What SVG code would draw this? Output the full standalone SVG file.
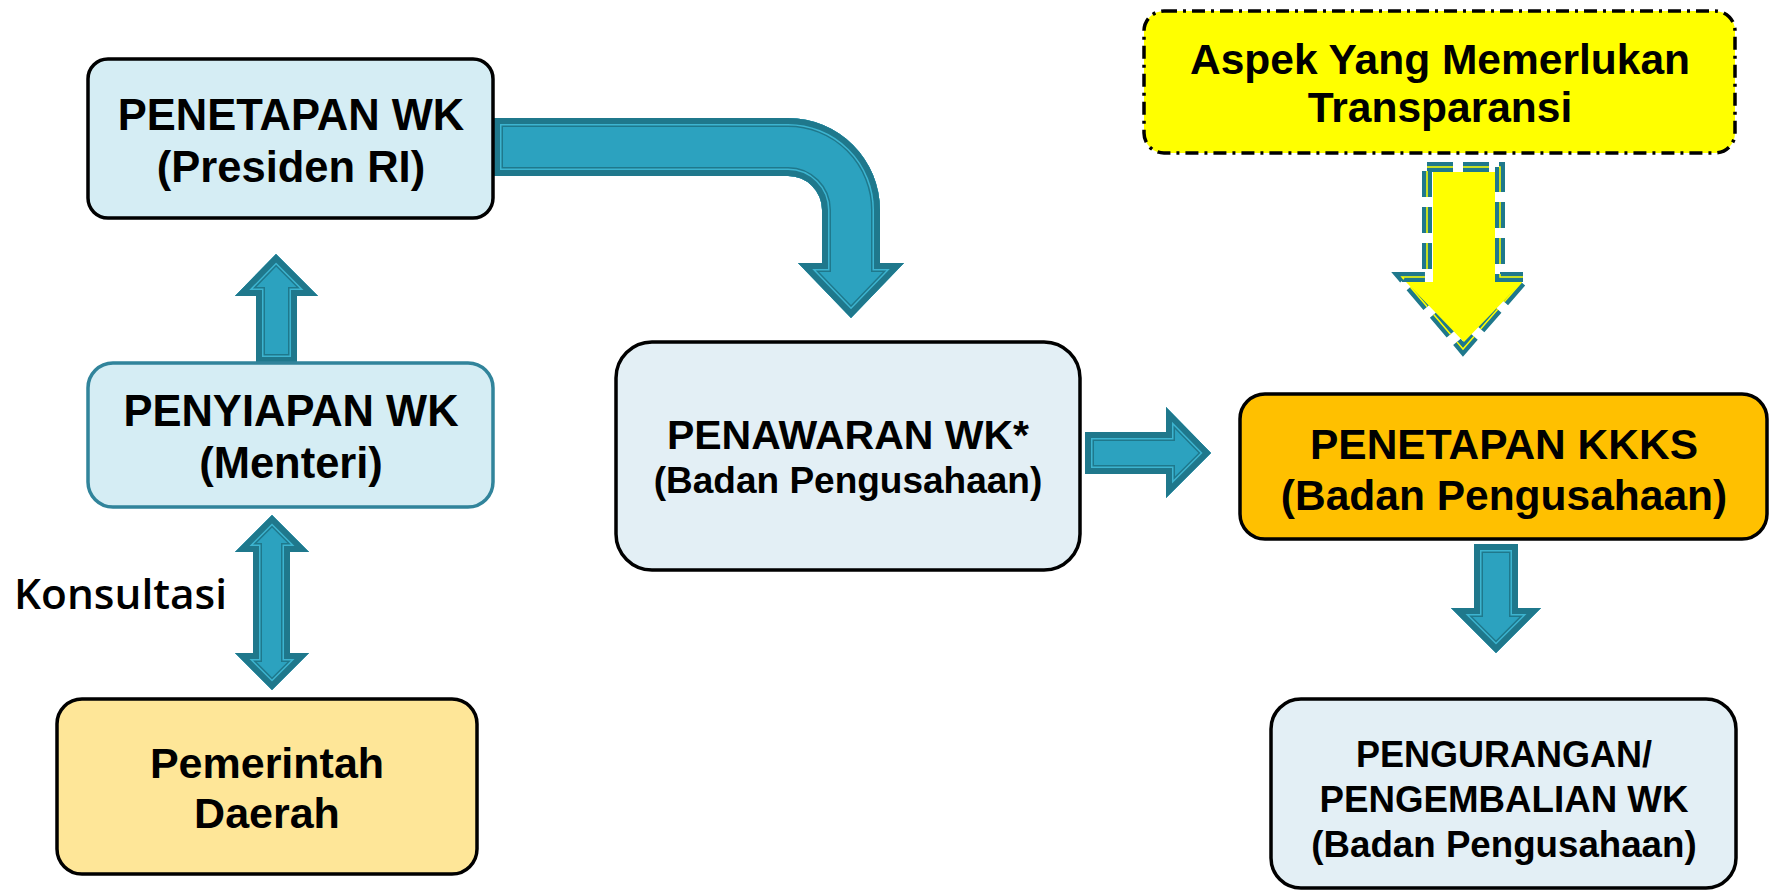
<svg xmlns="http://www.w3.org/2000/svg" xmlns:xlink="http://www.w3.org/1999/xlink" width="1776" height="892" viewBox="0 0 1776 892">
<style>
.t{font-family:"Liberation Sans",Arial,sans-serif;font-weight:bold;fill:#000;text-anchor:middle}
.box{stroke:#000;stroke-width:3.5}
.af{fill:#2ca2bf}
.s1{fill:none;stroke:#1f788c;stroke-width:18}
.s2{fill:none;stroke:#3db4d0;stroke-width:15}
.s3{fill:none;stroke:#1f788c;stroke-width:12}
</style>
<defs>
<path id="pUp" d="M256,363 V296 H235 L276,254 L318,296 H297 V363 Z"/>
<path id="pDbl" d="M272,515 L309,552 H290 V653 H309 L272,690 L235,653 H253 V552 H235 Z"/>
<path id="pCurve" d="M494,118 H788 A92,92 0 0 1 880,210 V263 H904 L851,318 L798,263 H822 V210 A34,34 0 0 0 788,176 H494 Z"/>
<path id="pRight" d="M1085,432 H1166 V407 L1211,453 L1166,498 V474 H1085 Z"/>
<path id="pDown" d="M1474,544 H1518 V608 H1541 L1496,653 L1451,608 H1474 Z"/>
<clipPath id="cUp"><use xlink:href="#pUp"/></clipPath>
<clipPath id="cDbl"><use xlink:href="#pDbl"/></clipPath>
<clipPath id="cCurve"><use xlink:href="#pCurve"/></clipPath>
<clipPath id="cRight"><use xlink:href="#pRight"/></clipPath>
<clipPath id="cDown"><use xlink:href="#pDown"/></clipPath>
</defs>
<rect width="1776" height="892" fill="#fff"/>

<g id="connectors">
 <g clip-path="url(#cUp)"><use xlink:href="#pUp" class="af"/><use xlink:href="#pUp" class="s1"/><use xlink:href="#pUp" class="s2"/><use xlink:href="#pUp" class="s3"/></g>
 <g clip-path="url(#cDbl)"><use xlink:href="#pDbl" class="af"/><use xlink:href="#pDbl" class="s1"/><use xlink:href="#pDbl" class="s2"/><use xlink:href="#pDbl" class="s3"/></g>
 <g clip-path="url(#cCurve)"><use xlink:href="#pCurve" class="af"/><use xlink:href="#pCurve" class="s1"/><use xlink:href="#pCurve" class="s2"/><use xlink:href="#pCurve" class="s3"/></g>
 <g clip-path="url(#cRight)"><use xlink:href="#pRight" class="af"/><use xlink:href="#pRight" class="s1"/><use xlink:href="#pRight" class="s2"/><use xlink:href="#pRight" class="s3"/></g>
 <g clip-path="url(#cDown)"><use xlink:href="#pDown" class="af"/><use xlink:href="#pDown" class="s1"/><use xlink:href="#pDown" class="s2"/><use xlink:href="#pDown" class="s3"/></g>
 <g id="yellowArrow">
  <path d="M1427,167 H1500 V277 H1526 L1463,349 L1402,277 H1427 Z" fill="none" stroke="#1f788c" stroke-width="10" stroke-dasharray="26 10"/>
  <path d="M1433,172 H1495 V282 H1522 L1464,342 L1406,282 H1433 Z" fill="#ffff00"/>
  <path d="M1427,167 H1500 V277 H1526 L1463,349 L1402,277 H1427 Z" fill="none" stroke="#ffff00" stroke-width="1.5" stroke-dasharray="26 10"/>
 </g>
 <text x="14" y="609" font-family="'Open Sans','DejaVu Sans',sans-serif" font-weight="600" font-size="41" textLength="213" lengthAdjust="spacingAndGlyphs" fill="#000">Konsultasi</text>
</g>

<g id="penetapan-wk">
 <rect class="box" x="88" y="59" width="405" height="159" rx="20" fill="#d5edf4"/>
 <text class="t" x="291" y="130" font-size="43.5">PENETAPAN WK</text>
 <text class="t" x="291" y="182" font-size="43.5">(Presiden RI)</text>
</g>

<g id="penyiapan-wk">
 <rect x="88" y="363" width="405" height="144" rx="25" fill="#d5edf4" stroke="#31849b" stroke-width="3.5"/>
 <text class="t" x="291" y="426" font-size="43.5">PENYIAPAN WK</text>
 <text class="t" x="291" y="478" font-size="43.5">(Menteri)</text>
</g>

<g id="pemerintah-daerah">
 <rect class="box" x="57" y="699" width="420" height="175" rx="25" fill="#fee698"/>
 <text class="t" x="267" y="778" font-size="43">Pemerintah</text>
 <text class="t" x="267" y="828" font-size="43">Daerah</text>
</g>

<g id="penawaran-wk">
 <rect class="box" x="616" y="342" width="464" height="228" rx="36" fill="#e3eff5"/>
 <text class="t" x="848" y="449" font-size="41">PENAWARAN WK*</text>
 <text class="t" x="848" y="493" font-size="37">(Badan Pengusahaan)</text>
</g>

<g id="penetapan-kkks">
 <rect class="box" x="1240" y="394" width="527" height="145" rx="25" fill="#ffc000"/>
 <text class="t" x="1504" y="459" font-size="42.5">PENETAPAN KKKS</text>
 <text class="t" x="1504" y="510" font-size="42.5">(Badan Pengusahaan)</text>
</g>

<g id="pengurangan-wk">
 <rect class="box" x="1271" y="699" width="465" height="189" rx="30" fill="#e3eff5"/>
 <text class="t" x="1504" y="767" font-size="36">PENGURANGAN/</text>
 <text class="t" x="1504" y="812" font-size="36.7">PENGEMBALIAN WK</text>
 <text class="t" x="1504" y="857" font-size="36.7">(Badan Pengusahaan)</text>
</g>

<g id="aspek-transparansi">
 <rect x="1144" y="11" width="591" height="142" rx="20" fill="#ffff00" stroke="#000" stroke-width="3.5" stroke-dasharray="13 6 3 6"/>
 <text class="t" x="1440" y="74" font-size="42.5">Aspek Yang Memerlukan</text>
 <text class="t" x="1440" y="122" font-size="42.5">Transparansi</text>
</g>
</svg>
